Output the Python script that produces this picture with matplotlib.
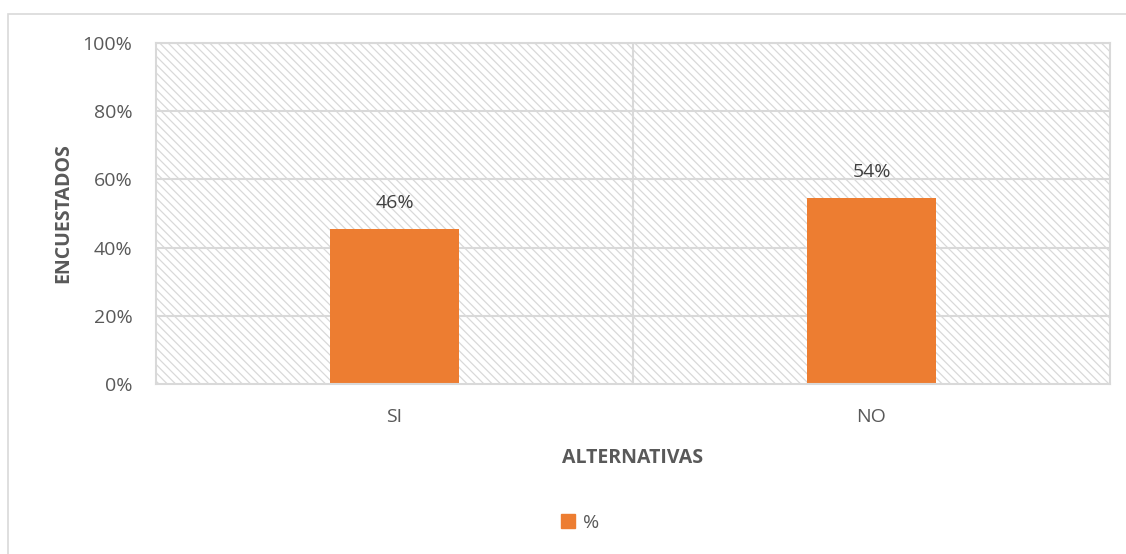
import matplotlib.pyplot as plt
from matplotlib.patches import Rectangle

plt.rcParams['font.family'] = ['Open Sans', 'DejaVu Sans']
plt.rcParams['hatch.linewidth'] = 0.9

categories = ["SI", "NO"]
values = [0.4545, 0.5455]
labels = ["46%", "54%"]
yticks = [0, 0.2, 0.4, 0.6, 0.8, 1.0]
ytick_labels = ["0%", "20%", "40%", "60%", "80%", "100%"]

orange = "#ed7d31"
grid = "#d9d9d9"
txt = "#595959"
fs = 14

fig = plt.figure(figsize=(11.26, 5.54), dpi=100)
# outer chart border
fig.patches.append(Rectangle((8 / 1126, -0.1), 1.2, (554 - 14) / 554 + 0.1,
                             transform=fig.transFigure, fill=False,
                             edgecolor=grid, linewidth=1.2))

ax = fig.add_axes([156 / 1126, 1 - 384 / 554, (1110 - 156) / 1126, (384 - 43) / 554])
x = list(range(len(categories)))
ax.set_xlim(-0.5, len(categories) - 0.5)
ax.set_ylim(0, 1)

# hatched plot area
ax.add_patch(Rectangle((0, 0), 1, 1, transform=ax.transAxes, facecolor="white",
                       edgecolor=grid, hatch="\\\\\\\\", linewidth=0, zorder=0))

for y in yticks[1:]:
    ax.axhline(y, color=grid, linewidth=1.5, zorder=1)
ax.axvline(0.5, color=grid, linewidth=1.5, zorder=1)

ax.bar(x, values, width=0.27, color=orange, zorder=2)
for xi, v, lab in zip(x, values, labels):
    ax.annotate(lab, (xi, v), xytext=(0, 12), textcoords="offset points",
                ha="center", va="bottom", fontsize=fs, color="#404040")

for s in ax.spines.values():
    s.set_color(grid)
    s.set_linewidth(1.5)

ax.set_yticks(yticks)
ax.set_yticklabels(ytick_labels, fontsize=fs, color=txt)
ax.set_xticks(x)
ax.set_xticklabels(categories, fontsize=fs, color=txt)
ax.tick_params(length=0)
ax.tick_params(axis="y", pad=17)
ax.tick_params(axis="x", pad=17)

ax.set_ylabel("ENCUESTADOS", fontsize=fs, fontweight="bold", color=txt, labelpad=7)
ax.set_xlabel("ALTERNATIVAS", fontsize=fs, fontweight="bold", color=txt, labelpad=16)

fig.legend(handles=[Rectangle((0, 0), 1, 1, color=orange)], labels=["%"],
           loc="center", bbox_to_anchor=(580 / 1126, 1 - 523 / 554), frameon=False,
           fontsize=fs, labelcolor=txt, handlelength=0.75, handleheight=0.75,
           handletextpad=0.4)

fig.savefig("out.png", dpi=100)
